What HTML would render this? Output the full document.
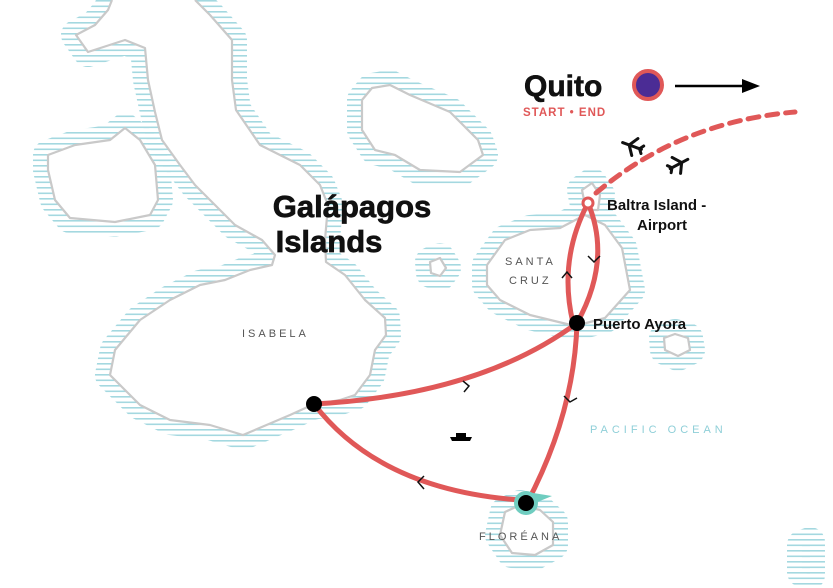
<!DOCTYPE html>
<html><head><meta charset="utf-8"><style>
html,body{margin:0;padding:0;background:#fff;}
svg{display:block;}
text{font-family:"Liberation Sans",sans-serif;}
</style></head><body>
<svg width="833" height="588" viewBox="0 0 833 588" xmlns="http://www.w3.org/2000/svg">
<defs>
<pattern id="h" width="10" height="5.5" patternUnits="userSpaceOnUse">
<rect x="0" y="0" width="10" height="1.6" fill="#a4d8e0"/>
</pattern>
</defs>
<g stroke="url(#h)" stroke-width="30" stroke-linejoin="round" fill="url(#h)">
<path d="M195,0 L210,15 232,40 232,80 236,110 260,145 300,165 320,185 328,205 325,240 326,262 345,275 365,300 385,318 386,335 375,350 370,375 355,395 340,400 312,405 290,415 243,435 210,425 170,420 140,405 110,375 115,350 140,320 170,300 200,285 225,280 250,270 272,265 275,255 262,240 235,225 215,205 195,185 180,165 162,140 155,112 148,80 145,48 125,40 88,52 76,35 95,25 108,10 112,0 Z"/>
<path d="M48,155 L75,145 110,140 125,128 140,140 155,165 158,200 150,215 115,222 70,218 55,200 48,170 Z"/>
<path d="M372,88 L390,85 410,95 450,112 478,140 483,155 460,172 420,170 395,155 375,150 362,130 362,100 Z"/>
<path d="M487,265 L505,240 530,230 560,228 585,215 605,225 622,248 630,290 605,318 575,326 530,315 500,300 487,285 Z"/>
<path d="M582,190 L592,183 600,195 598,210 586,210 Z"/>
<path d="M430,262 L440,258 446,268 440,276 431,273 Z"/>
<path d="M664,338 L675,334 688,338 690,350 678,356 665,350 Z"/>
<path d="M505,512 L520,505 540,510 553,522 553,545 535,555 512,553 500,535 Z"/>
<path d="M802,545 L810,542 810,575 802,572 Z"/>
</g>
<g fill="#fff" stroke="#c9c9c9" stroke-width="2.2" stroke-linejoin="round">
<path d="M195,0 L210,15 232,40 232,80 236,110 260,145 300,165 320,185 328,205 325,240 326,262 345,275 365,300 385,318 386,335 375,350 370,375 355,395 340,400 312,405 290,415 243,435 210,425 170,420 140,405 110,375 115,350 140,320 170,300 200,285 225,280 250,270 272,265 275,255 262,240 235,225 215,205 195,185 180,165 162,140 155,112 148,80 145,48 125,40 88,52 76,35 95,25 108,10 112,0"/>
<path d="M48,155 L75,145 110,140 125,128 140,140 155,165 158,200 150,215 115,222 70,218 55,200 48,170 Z"/>
<path d="M372,88 L390,85 410,95 450,112 478,140 483,155 460,172 420,170 395,155 375,150 362,130 362,100 Z"/>
<path d="M487,265 L505,240 530,230 560,228 585,215 605,225 622,248 630,290 605,318 575,326 530,315 500,300 487,285 Z"/>
<path d="M582,190 L592,183 600,195 598,210 586,210 Z"/>
<path d="M430,262 L440,258 446,268 440,276 431,273 Z"/>
<path d="M664,338 L675,334 688,338 690,350 678,356 665,350 Z"/>
<path d="M505,512 L520,505 540,510 553,522 553,545 535,555 512,553 500,535 Z"/>
</g>
<g fill="none" stroke="#e05858" stroke-width="5" stroke-linecap="round">
<path d="M588,203 Q558,260 573,323"/>
<path d="M588,203 Q612,260 577,323"/>
<path d="M577,323 Q480,395 314,404"/>
<path d="M577,323 C575,390 555,450 527,503"/>
<path d="M314,404 Q380,490 520,500"/>
<path d="M596,193 Q680,122 795,112" stroke-dasharray="11,8"/>
</g>
<g fill="none" stroke="#111" stroke-width="1.5">
<path d="M562,278 L567,272 572,278"/>
<path d="M588,256 L594,262 600,256"/>
<path d="M463,381 L469,386 464,392"/>
<path d="M564,396 L570,402 577,398"/>
<path d="M424,476 L418,482 424,489"/>
</g>
<circle cx="588" cy="203" r="5" fill="#fff" stroke="#e05858" stroke-width="3"/>
<circle cx="577" cy="323" r="8" fill="#000"/>
<circle cx="314" cy="404" r="8" fill="#000"/>
<path d="M527,492 L552,496 535,503 Z" fill="#6fcdc0"/>
<circle cx="526" cy="503" r="12" fill="#6fcdc0"/>
<circle cx="526" cy="503" r="8" fill="#000"/>
<text x="524" y="96" font-size="30" font-weight="bold" fill="#111" stroke="#111" stroke-width="0.6">Quito</text>
<text x="523" y="116" font-size="11.5" font-weight="bold" fill="#e05858" letter-spacing="1">START • END</text>
<circle cx="648" cy="85" r="14" fill="#4b2c95" stroke="#e05858" stroke-width="4"/>
<line x1="675" y1="86" x2="745" y2="86" stroke="#000" stroke-width="2.5"/>
<path d="M760,86 L742,79 742,93 Z" fill="#000"/>
<g fill="none" stroke="#111" stroke-width="3" stroke-linecap="round">
<g transform="translate(632,146) rotate(200)">
<path d="M-10,0 L10,0 M3,0 L-3,-9 M3,0 L-3,9 M-8,0 L-11,-4 M-8,0 L-11,4"/>
</g>
<g transform="translate(679,164) rotate(-28)">
<path d="M-10,0 L10,0 M3,0 L-3,-9 M3,0 L-3,9 M-8,0 L-11,-4 M-8,0 L-11,4"/>
</g>
</g>
<path d="M450,437 L472,437 470,441 452,441 Z M456,433 L466,433 466,437 456,437 Z" fill="#000"/>
<text x="352" y="217" font-size="31" font-weight="bold" fill="#111" stroke="#111" stroke-width="0.7" text-anchor="middle">Galápagos</text>
<text x="329" y="252" font-size="31" font-weight="bold" fill="#111" stroke="#111" stroke-width="0.7" text-anchor="middle">Islands</text>
<text x="607" y="210" font-size="15" font-weight="bold" fill="#111">Baltra Island -</text>
<text x="637" y="230" font-size="15" font-weight="bold" fill="#111">Airport</text>
<text x="593" y="329" font-size="15" font-weight="bold" fill="#111">Puerto Ayora</text>
<text x="505" y="265" font-size="11" fill="#555" letter-spacing="3">SANTA</text>
<text x="509" y="284" font-size="11" fill="#555" letter-spacing="3">CRUZ</text>
<text x="242" y="337" font-size="11" fill="#555" letter-spacing="3">ISABELA</text>
<text x="479" y="540" font-size="11" fill="#555" letter-spacing="3">FLORÉANA</text>
<text x="590" y="433" font-size="11" fill="#8fcfd8" letter-spacing="4">PACIFIC OCEAN</text>
</svg>
</body></html>
